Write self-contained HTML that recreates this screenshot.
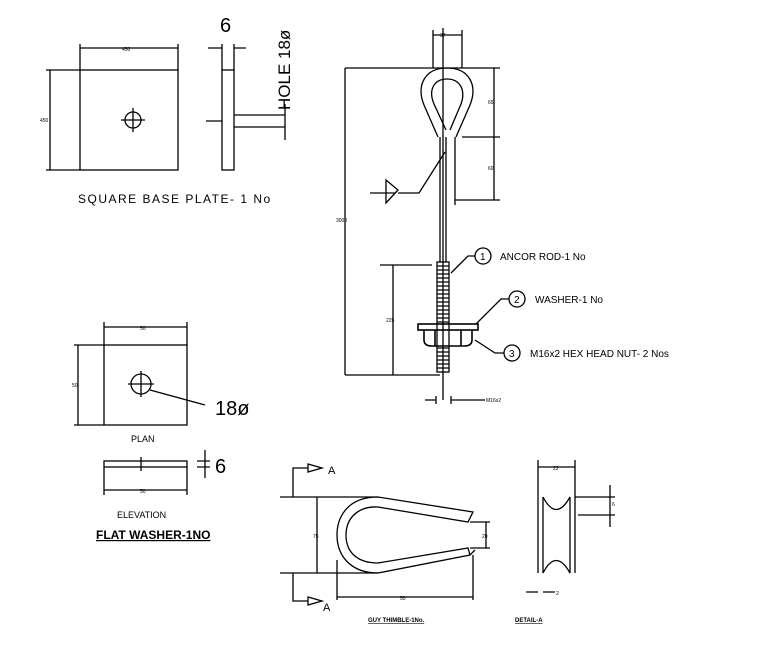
<!DOCTYPE html><html><head><style>body{margin:0;background:#fff}svg{display:block}text{font-family:"Liberation Sans",sans-serif}</style></head><body>
<svg width="758" height="671" viewBox="0 0 758 671" fill="none" stroke="#000" stroke-width="1.3">
<rect x="80" y="70" width="98" height="100"/>
<circle cx="133" cy="120" r="8"/><path d="M121 120H145M133 108V132"/>
<path d="M80 44V70M178 44V70M80 48H178M46 70H80M46 170H80M50 70V170"/>
<text x="122" y="51" font-size="5" fill="#000" stroke="none">450</text>
<text x="40" y="122" font-size="5" fill="#000" stroke="none">450</text>
<rect x="222" y="70" width="12" height="100"/>
<path d="M222 44V70M234 44V70M208 48H222M234 48H246M206 121H222M234 115H285M234 127H285M285 104V140"/>
<text x="220" y="32" font-size="20" fill="#000" stroke="none">6</text>
<text transform="translate(290,110) rotate(-90)" font-size="17" fill="#000" stroke="none">HOLE 18ø</text>
<text x="78" y="203" font-size="12" fill="#000" stroke="none" letter-spacing="1.5">SQUARE BASE PLATE- 1 No</text>
<rect x="104" y="345" width="83" height="80"/>
<circle cx="141" cy="384" r="10"/><path d="M128 384H154M141 371V397M150 390L205 405"/>
<path d="M104 322V345M187 322V345M104 327H187M74 345H104M74 425H104M78 345V425"/>
<text x="140" y="330" font-size="5" fill="#000" stroke="none">50</text>
<text x="72" y="387" font-size="5" fill="#000" stroke="none">50</text>
<text x="215" y="415" font-size="20" fill="#000" stroke="none">18ø</text>
<text x="131" y="442" font-size="9" fill="#000" stroke="none">PLAN</text>
<rect x="104" y="461" width="83" height="6"/>
<path d="M141 457V471M104 467V495M187 467V495M104 490H187M197 461H210M197 467H210M205 450V478"/>
<text x="140" y="493" font-size="5" fill="#000" stroke="none">50</text>
<text x="215" y="473" font-size="20" fill="#000" stroke="none">6</text>
<text x="117" y="518" font-size="9" fill="#000" stroke="none">ELEVATION</text>
<text x="96" y="539" font-size="12" font-weight="bold" fill="#000" stroke="none" text-decoration="underline">FLAT WASHER-1NO</text>
<path d="M443 28V400M440 137V262M446 137V262M455 137V205M433 30V68M462 30V68M433 35H462"/>
<path d="M438 137 L424 105 C416 85 425 68 447 68 C469 68 478 85 470 105 L456 137"/>
<path d="M446 130 L434 104 C428 90 434 79 447 79 C460 79 466 90 461 104 L450 130"/>
<text x="440" y="37" font-size="5" fill="#000" stroke="none">37</text>
<path d="M345 68H500M345 375H440M345 68V375M494 68V200M462 137H500M455 200H500M380 265H432M393 265V375"/>
<text x="336" y="222" font-size="5" fill="#000" stroke="none">3000</text>
<text x="488" y="104" font-size="5" fill="#000" stroke="none">65</text>
<text x="488" y="170" font-size="5" fill="#000" stroke="none">60</text>
<text x="386" y="322" font-size="5" fill="#000" stroke="none">225</text>
<path d="M370 193H395M386 180L398 190L386 203ZM398 193H419L445 152"/>
<rect x="437" y="262" width="12" height="110"/>
<path d="M437 266h12M437 270h12M437 274h12M437 278h12M437 282h12M437 286h12M437 290h12M437 294h12M437 298h12M437 302h12M437 306h12M437 310h12M437 314h12M437 318h12M437 322h12M437 348h12M437 352h12M437 356h12M437 360h12M437 364h12M437 368h12"/>
<rect x="418" y="324" width="60" height="6" stroke-width="1.6"/>
<path d="M424 330 V340 Q424 346 432 346 H464 Q472 346 472 340 V330 M435 330V346M461 330V346" stroke-width="1.6"/>
<path d="M425 400H436M451 400H485M436 396V404M451 396V404"/>
<text x="486" y="402" font-size="5" fill="#000" stroke="none">M16x2</text>
<circle cx="483" cy="256" r="8"/><path d="M475 256 L468 256 L451 273"/>
<circle cx="517" cy="299" r="8"/><path d="M509 299 L501 299 L476 324"/>
<circle cx="512" cy="353" r="8"/><path d="M504 353 L495 353 L475 340"/>
<g fill="#000" stroke="none" font-size="10"><text x="480" y="260">1</text><text x="514" y="303">2</text><text x="509" y="357">3</text>
<text x="500" y="260">ANCOR ROD-1 No</text><text x="535" y="303">WASHER-1 No</text><text x="530" y="357">M16x2 HEX HEAD NUT- 2 Nos</text></g>
<path d="M280 497H378M280 573H378M293 497V468H308M293 573V601H308"/>
<path d="M308 464L322 468L308 472ZM308 597L322 601L308 605Z"/>
<text x="328" y="474" font-size="11" fill="#000" stroke="none">A</text>
<text x="323" y="611" font-size="11" fill="#000" stroke="none">A</text>
<path d="M378 497 C345 497 337 520 337 535 C337 555 350 573 378 573 L470 555 L475 550 M378 497 L473 512 L468 522 L378 507 C356 506 346 520 346 535 C346 552 357 563 378 563 L468 548 L470 555"/>
<path d="M317 497V573M337 560V600M473 555V600M337 597H473M470 522H490M470 548H490M486 522V548"/>
<text x="313" y="538" font-size="5" fill="#000" stroke="none">75</text>
<text x="400" y="600" font-size="5" fill="#000" stroke="none">50</text>
<text x="482" y="538" font-size="5" fill="#000" stroke="none">20</text>
<text x="368" y="622" font-size="6" font-weight="bold" fill="#000" stroke="none" text-decoration="underline">GUY THIMBLE-1No.</text>
<path d="M538 460V497M575 460V497M538 467H575M538 497V573M543 497V573M570 497V573M575 497V573M575 497H615M578 515H615M610 485V527"/>
<path d="M543 497 Q556 522 570 497M543 573 Q556 548 570 573"/>
<path d="M526 592H538M543 592H555"/>
<text x="553" y="470" font-size="5" fill="#000" stroke="none">22</text>
<text x="556" y="595" font-size="5" fill="#000" stroke="none">2</text>
<text x="612" y="506" font-size="5" fill="#000" stroke="none">6</text>
<text x="515" y="622" font-size="6" font-weight="bold" fill="#000" stroke="none" text-decoration="underline">DETAIL-A</text>
</svg></body></html>
